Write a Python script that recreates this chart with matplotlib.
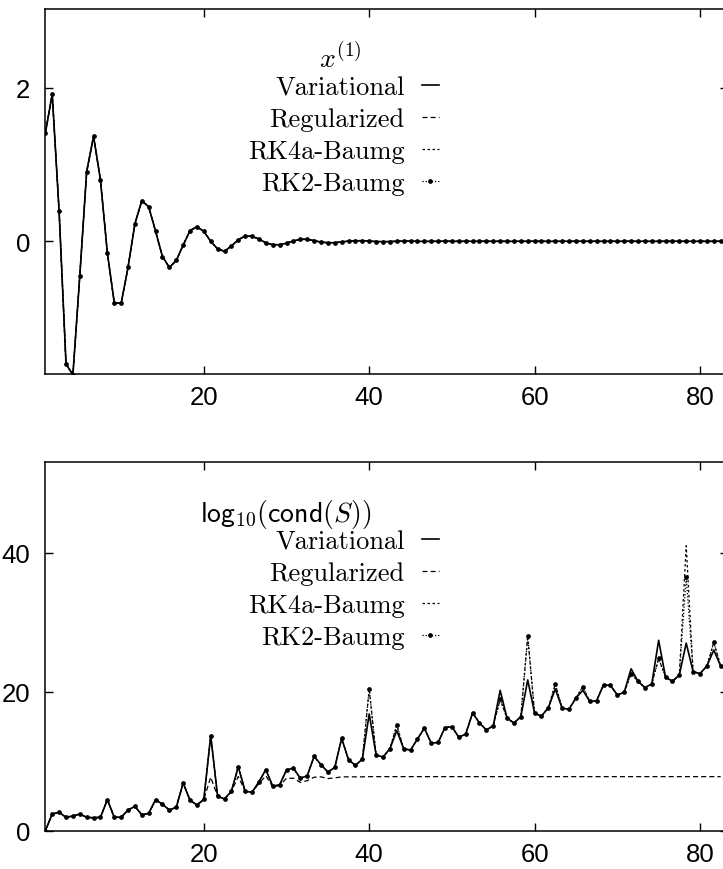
import numpy as np
import matplotlib
matplotlib.use("Agg")
import matplotlib.pyplot as plt
from matplotlib import font_manager

plt.rcParams['mathtext.fontset'] = 'cm'

# paso de tiempo: puntos en k*h, k = 1..99
h = 5.0 / 6.0
t = np.arange(1, 100) * h

# panel superior: x^(1) (las cuatro curvas se superponen)
x1_vals = [1.41, 1.92, 0.39, -1.60, -1.74, -0.45, 0.91, 1.37, 0.80, -0.15,
           -0.80, -0.81, -0.34, 0.23, 0.53, 0.45, 0.13, -0.20, -0.34, -0.25,
           -0.05, 0.14, 0.19, 0.13, 0.00, -0.10, -0.13, -0.06, 0.02, 0.07,
           0.065, 0.03, -0.02, -0.044, -0.044, -0.025, 0.005, 0.026, 0.026, 0.01,
           -0.01, -0.018, -0.018, -0.008, 0.003, 0.008, 0.008, 0.003, -0.003, -0.004,
           -0.003, 0.0, 0.002, 0.002, 0.0, -0.001, -0.001, 0.0, 0.001, 0.0,
           0.0, 0.0, 0.0, 0.0, 0.0, 0.0, 0.0, 0.0, 0.0, 0.0,
           0.0, 0.0, 0.0, 0.0, 0.0, 0.0, 0.0, 0.0, 0.0, 0.0,
           0.0, 0.0, 0.0, 0.0, 0.0, 0.0, 0.0, 0.0, 0.0, 0.0,
           0.0, 0.0, 0.0, 0.0, 0.0, 0.0, 0.0, 0.0, 0.0]

# panel inferior: log10(cond(S))
var_cond = [0.0, 2.4, 2.65, 1.93, 2.12, 2.4, 1.93, 1.87, 1.93, 4.47,
            1.93, 1.93, 2.98, 3.5, 2.3, 2.5, 4.47, 3.8, 2.98, 3.37,
            6.87, 4.38, 3.7, 4.5, 13.7, 4.95, 4.57, 5.67, 9.2, 5.67,
            5.53, 7.06, 8.8, 6.4, 6.6, 8.75, 9.0, 7.55, 7.9, 10.7,
            9.5, 8.45, 9.1, 13.3, 10.2, 9.4, 10.3, 16.8, 10.9, 10.6,
            11.8, 14.4, 11.8, 11.6, 13.2, 14.75, 12.6, 12.7, 14.85, 14.95,
            13.45, 13.9, 16.95, 15.5, 14.5, 15.1, 20.2, 16.2, 15.5, 16.4,
            21.7, 16.9, 16.5, 17.7, 20.4, 17.6, 17.5, 19.1, 20.2, 18.6,
            18.7, 21.0, 20.9, 19.55, 19.9, 23.3, 21.5, 20.6, 21.1, 27.4,
            22.1, 21.5, 22.4, 27.0, 22.9, 22.6, 23.7, 26.0, 23.7]

reg_cond = [0.0, 2.4, 2.65, 1.93, 2.12, 2.4, 1.93, 1.87, 1.93, 4.47,
            1.93, 1.93, 2.98, 3.5, 2.3, 2.5, 4.47, 3.8, 2.98, 3.37,
            6.87, 4.38, 3.7, 4.5, 7.7, 4.95, 4.57, 5.67, 7.8, 5.67,
            5.53, 6.8, 7.9, 6.3, 6.5, 7.55, 7.55, 6.95, 7.2, 7.7,
            7.75, 7.5, 7.6, 7.75, 7.75, 7.75, 7.75, 7.78, 7.78, 7.78,
            7.78, 7.78, 7.78, 7.78, 7.78, 7.78, 7.78, 7.78, 7.78, 7.78,
            7.78, 7.78, 7.78, 7.78, 7.78, 7.78, 7.78, 7.78, 7.78, 7.78,
            7.78, 7.78, 7.78, 7.78, 7.78, 7.78, 7.78, 7.78, 7.78, 7.78,
            7.78, 7.78, 7.78, 7.78, 7.78, 7.78, 7.78, 7.78, 7.78, 7.78,
            7.78, 7.78, 7.78, 7.78, 7.78, 7.78, 7.78, 7.78, 7.78]

rk4a_cond = [0.0, 2.4, 2.65, 1.93, 2.12, 2.4, 1.93, 1.87, 1.93, 4.47,
             1.93, 1.93, 2.98, 3.5, 2.3, 2.5, 4.47, 3.8, 2.98, 3.37,
             6.87, 4.38, 3.7, 4.5, 13.7, 4.95, 4.57, 5.67, 9.2, 5.67,
             5.53, 7.06, 8.8, 6.4, 6.6, 8.75, 9.0, 7.55, 7.9, 10.7,
             9.5, 8.45, 9.1, 13.3, 10.2, 9.4, 10.3, 20.4, 10.9, 10.6,
             11.8, 15.2, 11.8, 11.6, 13.2, 14.75, 12.6, 12.7, 14.85, 14.95,
             13.45, 13.9, 16.95, 15.5, 14.5, 15.1, 18.9, 16.2, 15.5, 16.4,
             28.0, 16.9, 16.5, 17.7, 21.1, 17.6, 17.5, 19.1, 20.75, 18.6,
             18.7, 21.0, 20.9, 19.55, 19.9, 22.6, 21.5, 20.6, 21.1, 24.8,
             22.1, 21.5, 22.4, 41.0, 22.9, 22.6, 23.7, 27.1, 23.7]

rk2_cond = [0.0, 2.4, 2.65, 1.93, 2.12, 2.4, 1.93, 1.87, 1.93, 4.47,
            1.93, 1.93, 2.98, 3.5, 2.3, 2.5, 4.47, 3.8, 2.98, 3.37,
            6.87, 4.38, 3.7, 4.5, 13.7, 4.95, 4.57, 5.67, 9.2, 5.67,
            5.53, 7.06, 8.8, 6.4, 6.6, 8.75, 9.0, 7.55, 7.9, 10.7,
            9.5, 8.45, 9.1, 13.3, 10.2, 9.4, 10.3, 20.4, 10.9, 10.6,
            11.8, 15.2, 11.8, 11.6, 13.2, 14.75, 12.6, 12.7, 14.85, 14.95,
            13.45, 13.9, 16.95, 15.5, 14.5, 15.1, 18.9, 16.2, 15.5, 16.4,
            28.0, 16.9, 16.5, 17.7, 21.1, 17.6, 17.5, 19.1, 20.75, 18.6,
            18.7, 21.0, 20.9, 19.55, 19.9, 22.6, 21.5, 20.6, 21.1, 24.8,
            22.1, 21.5, 22.4, 36.5, 22.9, 22.6, 23.7, 27.1, 23.7]

labels = ["Variational", "Regularized", "RK4a-Baumg", "RK2-Baumg"]

# fuente de los ticks (angosta si existe)
nombres = {f.name for f in font_manager.fontManager.ttflist}
tick_font = "Liberation Sans Narrow" if "Liberation Sans Narrow" in nombres else "Liberation Sans"
tick_size = 20 if tick_font == "Liberation Sans Narrow" else 18.5

fig = plt.figure(figsize=(7.23, 8.70), dpi=100)
ax1 = fig.add_axes([0.0627, 0.569, 0.9436, 0.4195])
ax2 = fig.add_axes([0.0627, 0.044, 0.9436, 0.4234])


def estilo_series(ax, series):
    l1, = ax.plot(t, series[0], color="black", lw=1.2, ls="-")
    l2, = ax.plot(t, series[1], color="black", lw=0.9, ls=(0, (4, 2.5)))
    l3, = ax.plot(t, series[2], color="black", lw=0.9, ls=(0, (2, 2)))
    l4, = ax.plot(t, series[3], color="black", lw=0.9, ls=(0, (1, 1.5)),
                  marker="o", ms=2.4, mfc="black", mec="black")
    return [l1, l2, l3, l4]


lineas1 = estilo_series(ax1, [x1_vals, x1_vals, x1_vals, x1_vals])
lineas2 = estilo_series(ax2, [var_cond, reg_cond, rk4a_cond, rk2_cond])

ax1.set_xlim(h, 100 * h)
ax1.set_ylim(-1.73, 3.03)
ax1.set_yticks([0, 2])
ax2.set_xlim(h, 100 * h)
ax2.set_ylim(0, 53.0)
ax2.set_yticks([0, 20, 40])

for ax in (ax1, ax2):
    ax.set_xticks([20, 40, 60, 80])
    ax.tick_params(direction="in", length=6, width=1.0, top=True, right=True,
                   labelsize=tick_size)
    ax.tick_params(axis="x", pad=8)
    ax.tick_params(axis="y", pad=11)
    for lab in ax.get_xticklabels() + ax.get_yticklabels():
        lab.set_fontfamily(tick_font)
    for s in ax.spines.values():
        s.set_linewidth(1.1)

# leyendas al estilo gnuplot (texto a la izquierda de la muestra)
for ax, lineas in ((ax1, lineas1), (ax2, lineas2)):
    ax.legend(lineas, labels, loc="upper right", bbox_to_anchor=(0.577, 0.818),
              frameon=False, markerfirst=False, handlelength=0.65,
              handletextpad=0.65, labelspacing=0.31, borderpad=0, borderaxespad=0,
              prop={"family": "cmr10", "size": 19})

ax1.text(0.432, 0.866, r"$x^{(1)}$", transform=ax1.transAxes, ha="center", va="center",
         fontsize=20)
ax2.text(0.2268, 0.86, r"$\mathsf{log}_{\mathsf{10}}(\mathsf{cond}(S))$",
         transform=ax2.transAxes, ha="left", va="center", fontsize=20)

fig.savefig("out.png", dpi=100)
